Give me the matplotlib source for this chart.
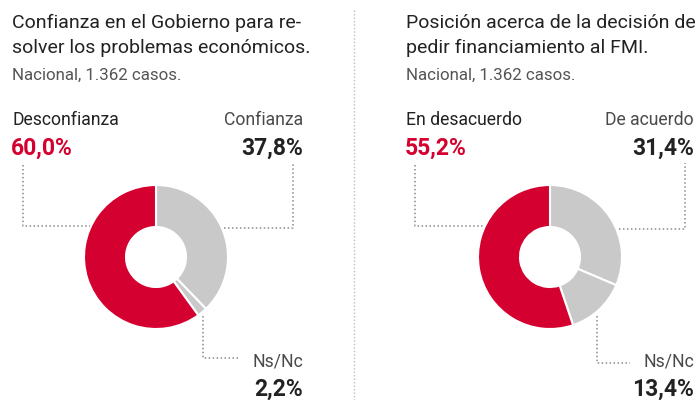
import matplotlib
matplotlib.use("Agg")
import matplotlib.pyplot as plt

# Datos
labels_left = ["Confianza", "Ns/Nc", "Desconfianza"]
values_left = [37.8, 2.2, 60.0]
labels_right = ["De acuerdo", "Ns/Nc", "En desacuerdo"]
values_right = [31.4, 13.4, 55.2]

titles = [
    ["Confianza en el Gobierno para re-", "solver los problemas económicos."],
    ["Posición acerca de la decisión de", "pedir financiamiento al FMI."],
]
subtitle = "Nacional, 1.362 casos."

# Farben
RED = "#d4002f"
GRAY = "#c9c9c9"
DARK = "#222222"
MID = "#4a4a4a"
DOT = "#8a8a8a"

W, H = 700, 400
plt.rcParams["font.family"] = ["Roboto", "DejaVu Sans"]

fig = plt.figure(figsize=(7, 4), dpi=100)
ax = fig.add_axes([0, 0, 1, 1])


def Y(y):
    # Pixel von oben -> Datenkoordinate
    return H - y


def dotted(xs, ys):
    ax.plot(xs, [Y(v) for v in ys], color=DOT, lw=1.1, linestyle=(0, (1, 1.6)),
            solid_capstyle="butt")


def pct(v):
    return f"{v:.1f}%".replace(".", ",")


# (Versatz Kreis, rechter Textrand, Werte, Labels, Titel)
panels = [
    (0, 303, values_left, labels_left, titles[0]),
    (394, 694, values_right, labels_right, titles[1]),
]

for off, rx, vals, labs, title in panels:
    cx = 156 + off
    ax.pie(vals, colors=[GRAY, GRAY, RED], startangle=90, counterclock=False,
           center=(cx, Y(257)), radius=72,
           wedgeprops=dict(width=42, edgecolor="white", linewidth=1.5))

    lx = 12 + off
    ax.text(lx, Y(28), title[0], fontsize=14, color=DARK, va="baseline")
    ax.text(lx, Y(53), title[1], fontsize=14, color=DARK, va="baseline")
    ax.text(lx, Y(80), subtitle, fontsize=12.2, color="#555555", va="baseline")

    # Hauptkategorie (rot) links
    ax.text(lx, Y(125), labs[2], fontsize=12.7, color=DARK, va="baseline")
    ax.text(lx - 1, Y(155), pct(vals[2]), fontsize=16.5,
            color=RED, fontweight="bold", va="baseline")
    # Zustimmung rechts
    ax.text(rx, Y(125), labs[0], fontsize=12.7, color=MID, va="baseline", ha="right")
    ax.text(rx, Y(155), pct(vals[0]), fontsize=16.5,
            color=DARK, fontweight="bold", va="baseline", ha="right")
    # Ns/Nc unten rechts
    ax.text(rx, Y(366), labs[1], fontsize=12.7, color=MID, va="baseline", ha="right")
    ax.text(rx, Y(396), pct(vals[1]), fontsize=16.5,
            color=DARK, fontweight="bold", va="baseline", ha="right")

# Führungslinien links
dotted([23, 23, 90], [165, 226, 226])
dotted([224, 293, 293], [228, 228, 163])
dotted([203, 203, 240], [316, 358, 358])
# Führungslinien rechts
dotted([415, 415, 483], [165, 226, 226])
dotted([619, 685, 685], [229, 229, 163])
dotted([597, 597, 630], [316, 363, 363])

# Trennlinie
ax.plot([354, 354], [Y(10), Y(400)], color="#bdbdbd", lw=1, linestyle=(0, (1, 1.5)))

ax.set_xlim(0, W)
ax.set_ylim(0, H)
ax.set_aspect("equal")
ax.axis("off")

fig.savefig("out.png", dpi=100, facecolor="white")
